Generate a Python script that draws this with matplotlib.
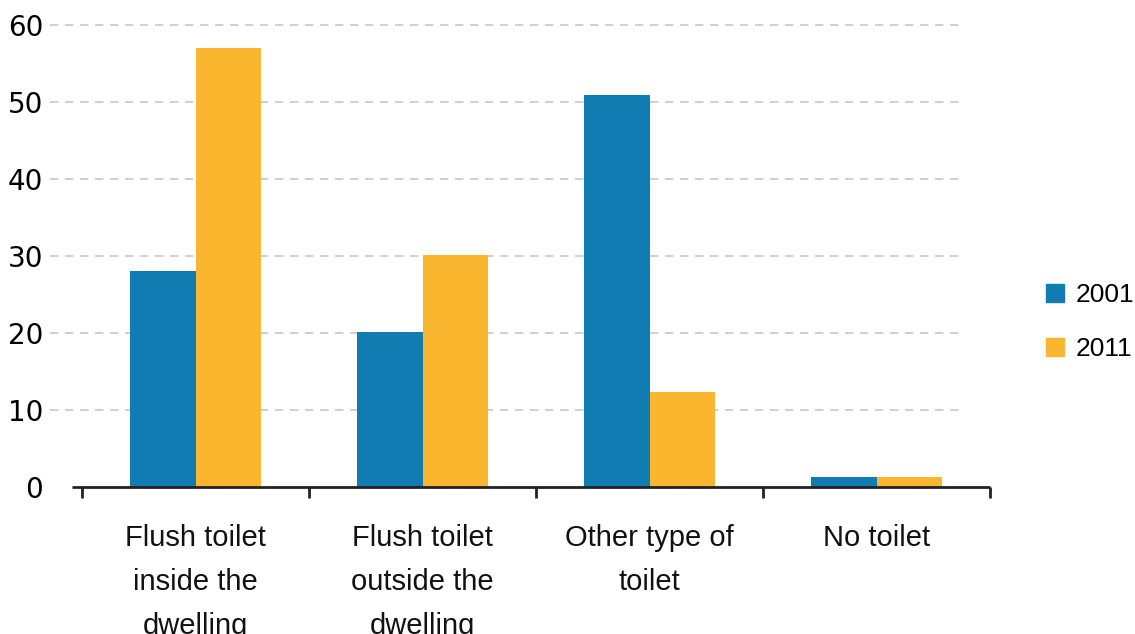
import numpy as np
import matplotlib
matplotlib.use("Agg")
import matplotlib.pyplot as plt
from matplotlib.patches import Patch

categories = ["Flush toilet\ninside the\ndwelling", "Flush toilet\noutside the\ndwelling",
              "Other type of\ntoilet", "No toilet"]
years = ["2001", "2011"]
vals_2001 = [28.1, 20.1, 50.9, 1.3]
vals_2011 = [57.0, 30.1, 12.3, 1.3]
yticks = [0, 10, 20, 30, 40, 50, 60]

blue = "#107CB1"
orange = "#FBB630"

W, H = 1135, 634
fig = plt.figure(figsize=(W / 100, H / 100), dpi=100)
ax = fig.add_axes([50 / W, 147 / H, 940 / W, 462 / H])

x = np.arange(len(categories))
bw = 0.29
ax.bar(x - bw / 2, vals_2001, bw, color=blue, zorder=3)
ax.bar(x + bw / 2, vals_2011, bw, color=orange, zorder=3)

left = -0.5 - 32 / 227
ax.set_xlim(left, 3.5)
ax.set_ylim(0, 60)

# dashed gridlines
for t in yticks[1:]:
    ax.hlines(t, left, 3.5 - 28 / 227, colors="#c8c8c8", linestyles=(0, (5, 4)),
              linewidth=1.2, zorder=1, clip_on=False)

for s in ax.spines.values():
    s.set_visible(False)
ax.plot([-0.5 - 10 / 227, 3.5], [0, 0], color="#222222", lw=2, zorder=4,
        clip_on=False, solid_capstyle="butt")

ax.set_xticks(np.arange(-0.5, 4, 1))
ax.set_xticklabels([])
ax.tick_params(axis="x", length=8, width=2, color="#222222", direction="out")
ax.set_yticks(yticks)
ax.tick_params(axis="y", length=0, pad=5, labelsize=20)

for i, c in enumerate(categories):
    ax.text(i, -4.85, c, ha="center", va="top", fontsize=21, family="Liberation Sans",
            linespacing=1.72, color="#111111")

handles = [Patch(color=blue, label=years[0]), Patch(color=orange, label=years[1])]
fig.legend(handles=handles, loc="center left", bbox_to_anchor=(1038 / W, 1 - 322 / H),
           frameon=False, prop={"family": "Liberation Sans", "size": 19},
           handlelength=0.68, handleheight=0.68, handletextpad=0.45, labelspacing=1.15,
           borderaxespad=0, borderpad=0.3)

fig.savefig("out.png", dpi=100)
